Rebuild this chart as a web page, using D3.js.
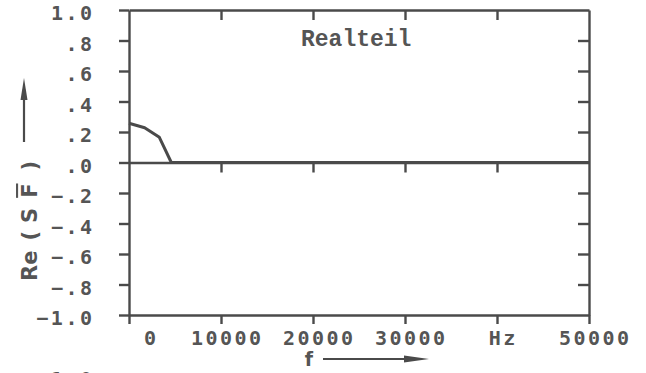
<!DOCTYPE html>
<html><head><meta charset="utf-8">
<script src="https://cdn.jsdelivr.net/npm/d3@7"></script>
<style>body{margin:0;background:#fff}</style>
</head><body><svg id="c" width="646" height="373"></svg>
<script>
// ---- data ----
const freqs = [0, 1700, 3300, 4600, 50000];
const realPart = [0.257, 0.228, 0.165, 0.0, 0.0];
const yTickValues = [-1, -0.8, -0.6, -0.4, -0.2, 0, 0.2, 0.4, 0.6, 0.8, 1];
const yTickLabels = ["\u22121.0", "\u2212.8", "\u2212.6", "\u2212.4", "\u2212.2", ".0", ".2", ".4", ".6", ".8", "1.0"];
const xTickValues = [0, 10000, 20000, 30000, 40000, 50000];
const xTickLabels = ["0", "10000", "20000", "30000", "Hz", "50000"];
const title = "Realteil";

// ---- drawing ----
const ink = "#4a4a4a";
const txt = "#555";
const svg = d3.select("#c");
const x = d3.scaleLinear().domain([0, 50000]).range([129, 589]);
const y = d3.scaleLinear().domain([-1, 1]).range([315, 10]);
const lw = 2.4;

function styleAxis(g) {
  g.selectAll("path,line").attr("stroke", ink).attr("stroke-width", lw);
  g.selectAll("text").remove();
}
const innerY = yTickValues.filter(v => v !== -1 && v !== 0 && v !== 1);
const innerX = xTickValues.filter(v => v !== 0 && v !== 50000);

// left axis: outward ticks
svg.append("g").attr("transform", `translate(${x(0)},0)`)
  .call(d3.axisLeft(y).tickValues(yTickValues).tickSize(10).tickSizeOuter(0)).call(styleAxis);
// right axis: inward ticks
svg.append("g").attr("transform", `translate(${x(50000)},0)`)
  .call(d3.axisLeft(y).tickValues(innerY).tickSize(11).tickSizeOuter(0)).call(styleAxis);
// top axis: inward ticks
svg.append("g").attr("transform", `translate(0,${y(1)})`)
  .call(d3.axisBottom(x).tickValues(innerX).tickSize(10).tickSizeOuter(0)).call(styleAxis);
// zero line with downward ticks
svg.append("g").attr("transform", `translate(0,${y(0)})`)
  .call(d3.axisBottom(x).tickValues(innerX).tickSize(10).tickSizeOuter(0)).call(styleAxis);
// bottom axis: outward ticks
svg.append("g").attr("transform", `translate(0,${y(-1)})`)
  .call(d3.axisBottom(x).tickValues(xTickValues).tickSize(9).tickSizeOuter(0)).call(styleAxis);

// y tick labels
const lblFont = "'DejaVu Sans Mono', monospace";
svg.append("g").selectAll("text").data(yTickValues).join("text")
  .attr("x", x(0) - 37 + 2.5).attr("y", d => y(d) + 10)
  .attr("text-anchor", "end")
  .attr("font-family", lblFont).attr("font-weight", "bold").attr("font-size", 20).attr("letter-spacing", 2.5)
  .attr("fill", txt)
  .text((d, i) => yTickLabels[i]);

// x tick labels
svg.append("g").selectAll("text").data(xTickValues).join("text")
  .attr("x", d => x(d) + (d === 0 ? 21 : 5) + 1.25).attr("y", y(-1) + 30)
  .attr("text-anchor", "middle")
  .attr("font-family", lblFont).attr("font-weight", "bold").attr("font-size", 20).attr("letter-spacing", 2.5)
  .attr("fill", txt)
  .text((d, i) => xTickLabels[i]);

// data line
const line = d3.line().x((d, i) => x(freqs[i])).y(d => y(d));
svg.append("path").datum(realPart).attr("d", line)
  .attr("fill", "none").attr("stroke", ink).attr("stroke-width", 3).attr("stroke-linejoin", "round");

// title
svg.append("text").attr("x", 301).attr("y", 46)
  .attr("font-family", "'Liberation Mono', monospace").attr("font-weight", "bold")
  .attr("font-size", 23).attr("fill", txt).text(title);

// y axis label (rotated)
const yl = svg.append("text").attr("transform", "translate(37,281) rotate(-90)")
  .attr("font-family", "'DejaVu Sans', sans-serif").attr("font-weight", "bold")
  .attr("font-size", 21).attr("fill", txt);
yl.append("tspan").text("Re");
yl.append("tspan").attr("dx", 10).text("(");
yl.append("tspan").attr("dx", 8).text("S");
yl.append("tspan").attr("dx", 10).style("text-decoration", "overline").text("F");
yl.append("tspan").attr("dx", 13).text(")");
// y arrow
svg.append("line").attr("x1", 24).attr("x2", 24).attr("y1", 142).attr("y2", 98)
  .attr("stroke", ink).attr("stroke-width", 2.2);
svg.append("path").attr("d", "M24,78 L27.5,100 L20.5,100 Z").attr("fill", ink);

// x axis label
svg.append("text").attr("x", 309).attr("y", 366).attr("text-anchor", "middle")
  .attr("font-family", "'DejaVu Sans', sans-serif").attr("font-weight", "bold")
  .attr("font-size", 19).attr("fill", txt).text("f");
svg.append("line").attr("x1", 323).attr("x2", 406).attr("y1", 359).attr("y2", 359)
  .attr("stroke", ink).attr("stroke-width", 2.2);
svg.append("path").attr("d", "M429,359 L404,355.5 L404,362.5 Z").attr("fill", ink);

// cut-off label of the next panel
svg.append("text").attr("x", x(0) - 37 + 2.5).attr("y", 386).attr("text-anchor", "end")
  .attr("font-family", lblFont).attr("font-weight", "bold").attr("font-size", 20).attr("letter-spacing", 2.5)
  .attr("fill", txt).text("1.0");
</script></body></html>
